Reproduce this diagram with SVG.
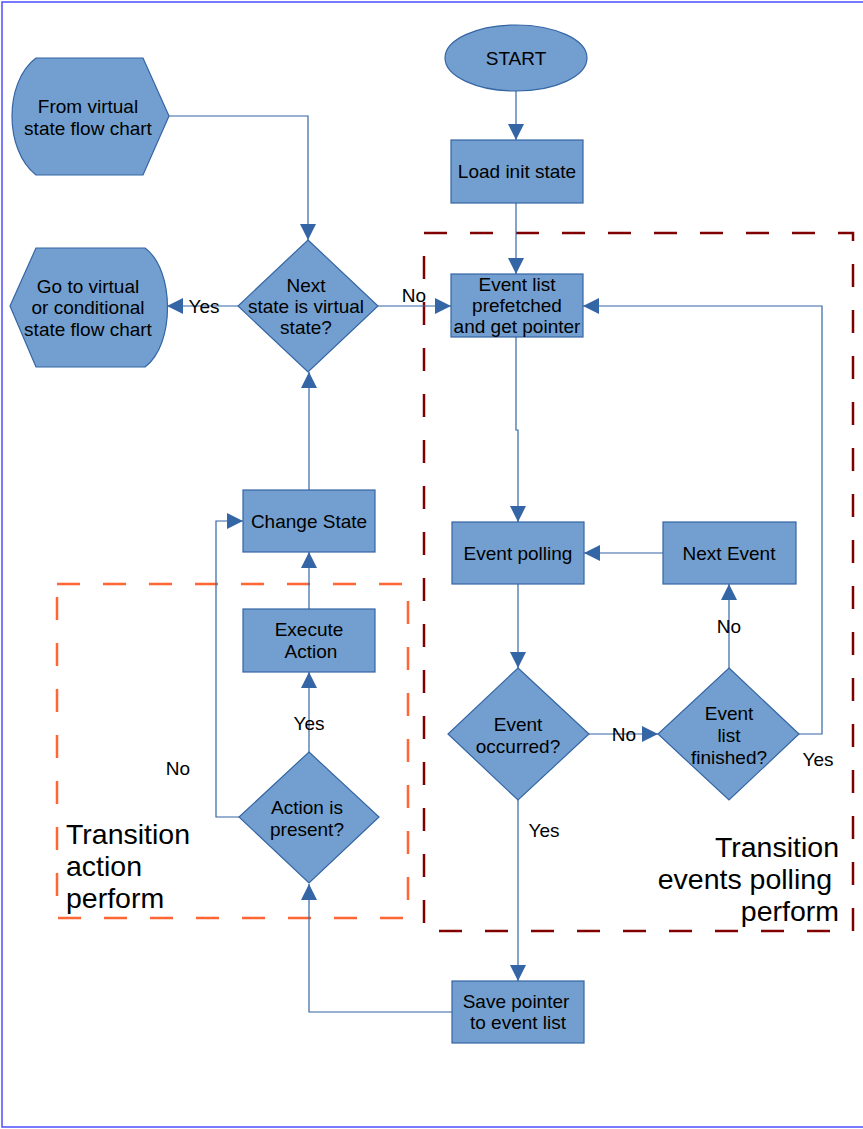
<svg xmlns="http://www.w3.org/2000/svg" width="863" height="1129" viewBox="0 0 863 1129">
  <style>
    .node { fill: #729fcf; stroke: #3465a4; stroke-width: 1.2; }
    .label { font-family: "Liberation Sans", Arial, sans-serif; font-size: 19px; fill: #000; text-anchor: middle; }
    .edge { fill: none; stroke: #3465a4; stroke-width: 1.2; marker-end: url(#arrow); }
    .elabel { font-family: "Liberation Sans", Arial, sans-serif; font-size: 19px; fill: #000; text-anchor: middle; }
    .group-title { font-family: "Liberation Sans", Arial, sans-serif; font-size: 28.5px; fill: #000; }
  </style>
  <defs>
    <marker id="arrow" viewBox="0 0 10 10" refX="10" refY="5" markerWidth="16" markerHeight="16" markerUnits="userSpaceOnUse" orient="auto">
      <path d="M0,0 L10,5 L0,10 z" fill="#3465a4"/>
    </marker>
  </defs>

  <rect width="863" height="1129" fill="#fff"/>
  <!-- page frame -->
  <path d="M863,2 H2 V1127 H863" fill="none" stroke="#4d4dff" stroke-width="1.5"/>

  <!-- grouping frames -->
  <g id="frame-events">
    <rect x="424" y="233" width="429" height="698" fill="none" stroke="#800000" stroke-width="2.5" stroke-dasharray="23 23"/>
    <text class="group-title" text-anchor="end" x="839" y="857">Transition</text>
    <text class="group-title" text-anchor="end" x="832" y="889">events polling</text>
    <text class="group-title" text-anchor="end" x="839" y="921">perform</text>
  </g>
  <g id="frame-action">
    <rect x="57" y="584" width="351" height="334" fill="none" stroke="#ff6633" stroke-width="2.5" stroke-dasharray="23 23"/>
    <text class="group-title" x="66" y="844">Transition</text>
    <text class="group-title" x="66" y="876">action</text>
    <text class="group-title" x="66" y="908">perform</text>
  </g>

  <!-- connectors -->
  <g id="connectors">
    <path class="edge" d="M516,91 V140"/>
    <path class="edge" d="M516,203 V274"/>
    <path class="edge" d="M169,116 H308 V240"/>
    <path class="edge" d="M238,306 H167"/>
    <path class="edge" d="M378,306 H451"/>
    <path class="edge" d="M516,337 V430 H518 V522"/>
    <path class="edge" d="M663,553 H584"/>
    <path class="edge" d="M518,584 V668"/>
    <path class="edge" d="M589,734 H658"/>
    <path class="edge" d="M729,668 V584"/>
    <path class="edge" d="M799,734 H822 V306 H583"/>
    <path class="edge" d="M518,800 V981"/>
    <path class="edge" d="M452,1012 H309 V884"/>
    <path class="edge" d="M309,752 V672"/>
    <path class="edge" d="M309,609 V552"/>
    <path class="edge" d="M239,817 H216 V521 H243"/>
    <path class="edge" d="M309,490 V372"/>
    <text class="elabel" x="204" y="313">Yes</text>
    <text class="elabel" x="414" y="302">No</text>
    <text class="elabel" x="624" y="741">No</text>
    <text class="elabel" x="729" y="633">No</text>
    <text class="elabel" x="818" y="766">Yes</text>
    <text class="elabel" x="544" y="837">Yes</text>
    <text class="elabel" x="309" y="730">Yes</text>
    <text class="elabel" x="178" y="775">No</text>
  </g>

  <!-- nodes -->
  <g id="start">
    <ellipse class="node" cx="516" cy="58" rx="71" ry="33"/>
    <text class="label" x="516" y="65">START</text>
  </g>
  <g id="load-init-state">
    <rect class="node" x="451" y="140" width="132" height="63"/>
    <text class="label" x="517" y="178">Load init state</text>
  </g>
  <g id="from-virtual">
    <path class="node" d="M36,58 H143 L169,116 L143,175 H36 C4,150 4,82 36,58 z"/>
    <text class="label" x="88" y="113">From virtual</text>
    <text class="label" x="88" y="135">state flow chart</text>
  </g>
  <g id="go-to-virtual">
    <path class="node" d="M36,248 H145 C175,270 175,345 145,367 H36 L10,306 z"/>
    <text class="label" x="88" y="293">Go to virtual</text>
    <text class="label" x="88" y="314">or conditional</text>
    <text class="label" x="88" y="336">state flow chart</text>
  </g>
  <g id="next-state-virtual">
    <path class="node" d="M308,240 L378,306 L308,372 L238,306 z"/>
    <text class="label" x="306" y="292">Next</text>
    <text class="label" x="306" y="313">state is virtual</text>
    <text class="label" x="306" y="334">state?</text>
  </g>
  <g id="event-list-prefetch">
    <rect class="node" x="451" y="274" width="132" height="63"/>
    <text class="label" x="517" y="291">Event list</text>
    <text class="label" x="517" y="312">prefetched</text>
    <text class="label" x="517" y="333">and get pointer</text>
  </g>
  <g id="event-polling">
    <rect class="node" x="452" y="522" width="132" height="62"/>
    <text class="label" x="518" y="560">Event polling</text>
  </g>
  <g id="next-event">
    <rect class="node" x="663" y="522" width="133" height="62"/>
    <text class="label" x="729" y="560">Next Event</text>
  </g>
  <g id="event-occurred">
    <path class="node" d="M518,668 L589,734 L518,800 L448,734 z"/>
    <text class="label" x="518" y="731">Event</text>
    <text class="label" x="518" y="753">occurred?</text>
  </g>
  <g id="event-list-finished">
    <path class="node" d="M729,668 L799,734 L729,800 L658,734 z"/>
    <text class="label" x="729" y="720">Event</text>
    <text class="label" x="729" y="742">list</text>
    <text class="label" x="729" y="764">finished?</text>
  </g>
  <g id="save-pointer">
    <rect class="node" x="452" y="981" width="132" height="62"/>
    <text class="label" x="516" y="1008">Save pointer</text>
    <text class="label" x="518" y="1029">to event list</text>
  </g>
  <g id="action-present">
    <path class="node" d="M309,752 L379,817 L309,883 L239,817 z"/>
    <text class="label" x="307" y="814">Action is</text>
    <text class="label" x="307" y="836">present?</text>
  </g>
  <g id="execute-action">
    <rect class="node" x="243" y="609" width="132" height="63"/>
    <text class="label" x="309" y="636">Execute</text>
    <text class="label" x="311" y="658">Action</text>
  </g>
  <g id="change-state">
    <rect class="node" x="243" y="490" width="132" height="62"/>
    <text class="label" x="309" y="528">Change State</text>
  </g>
</svg>
